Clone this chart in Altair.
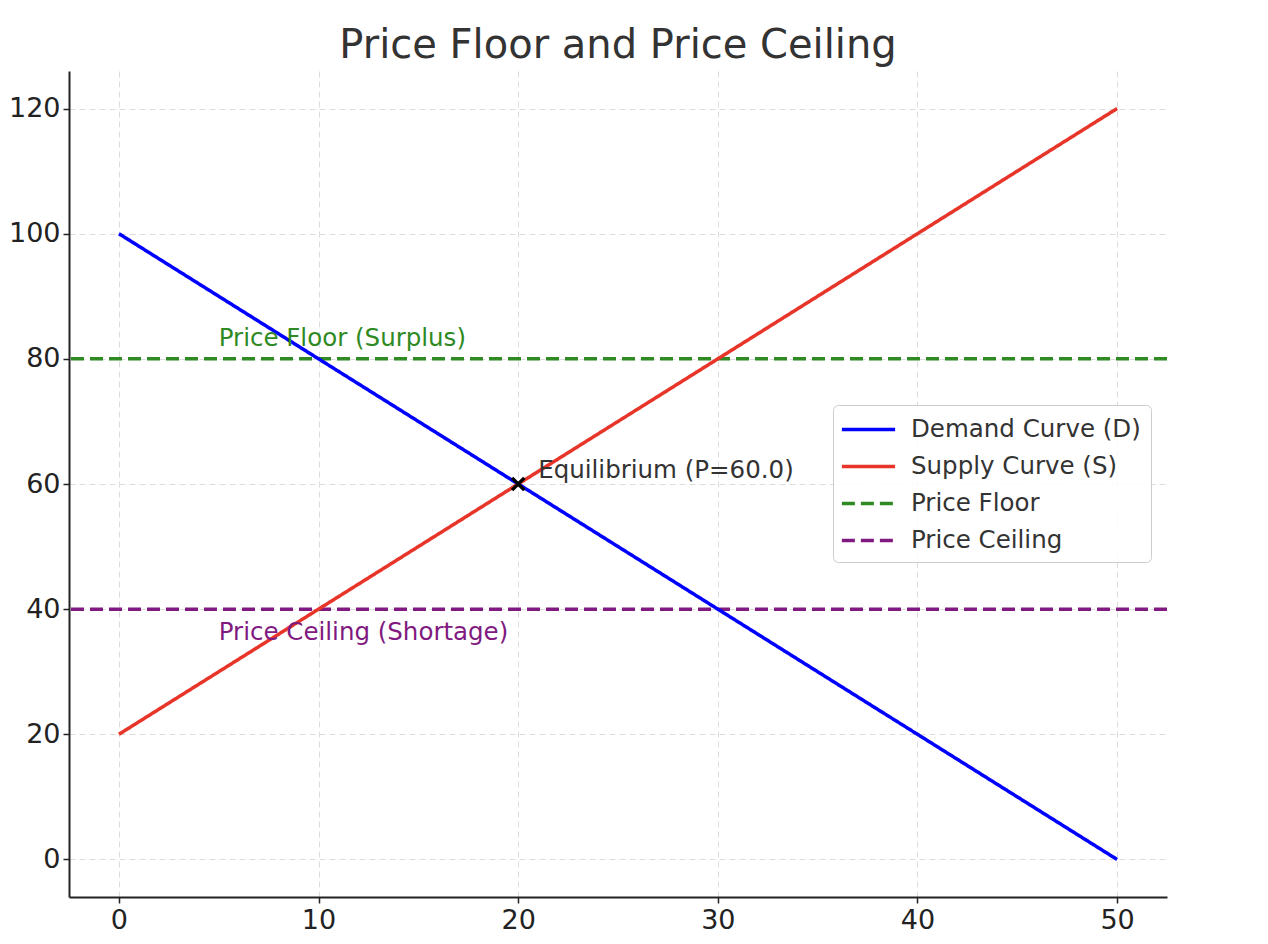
import altair as alt
import pandas as pd

# ---- data ----
series_names = ["Demand Curve (D)", "Supply Curve (S)", "Price Floor", "Price Ceiling"]
series_colors = ["#0000ff", "#e8352a", "#2f8a23", "#801a80"]
series_dash = [[1, 0], [1, 0], [13, 6], [13, 6]]

quantity = [0, 50]
demand_price = [100, 0]
supply_price = [20, 120]

price_floor = 80
price_ceiling = 40

eq_q = [20]
eq_p = [60]

note_text = ["Price Floor (Surplus)", "Price Ceiling (Shortage)", "Equilibrium (P=60.0)"]
note_x = [5, 5, 21]
note_y = [82, 35, 61]
note_color = ["#2f8a23", "#801a80", "#333333"]

x_ticks = [0, 10, 20, 30, 40, 50]
y_ticks = [0, 20, 40, 60, 80, 100, 120]

FONT = "DejaVu Sans"

lines_df = pd.DataFrame(
    {
        "series": [series_names[0]] * 2 + [series_names[1]] * 2,
        "q": quantity + quantity,
        "p": demand_price + supply_price,
    }
)
rules_df = pd.DataFrame({"series": [series_names[2], series_names[3]], "p": [price_floor, price_ceiling]})
eq_df = pd.DataFrame({"q": eq_q, "p": eq_p})
notes_df = pd.DataFrame({"text": note_text, "q": note_x, "p": note_y, "color": note_color})

xscale = alt.Scale(domain=[-2.5, 52.5], nice=False, zero=False)
yscale = alt.Scale(domain=[-6, 126], nice=False, zero=False)

PLOT_LEFT = 61  # padding left (page margin 8 -> plot at x=69)
PLOT_W = 1098

color_enc = alt.Color(
    "series:N",
    scale=alt.Scale(domain=series_names, range=series_colors),
    sort=series_names,
    legend=alt.Legend(
        title=None,
        orient="none",
        legendX=833 - (PLOT_LEFT + 8),
        legendY=334,
        padding=10,
        cornerRadius=5,
        strokeColor="#cccccc",
        fillColor="rgba(255,255,255,0.85)",
        labelFont=FONT,
        labelFontSize=24.5,
        labelColor="#333333",
        labelOffset=28,
        symbolType="M-2.13,0H2.13",
        symbolSize=625,
        symbolOffset=11,
        symbolStrokeWidth=3.5,
        rowPadding=11,
        labelLimit=400,
    ),
)
dash_enc = alt.StrokeDash(
    "series:N",
    scale=alt.Scale(domain=series_names, range=series_dash),
    sort=series_names,
    legend=None,
)

x_axis = alt.Axis(values=x_ticks, title=None, labelPadding=4)
y_axis = alt.Axis(values=y_ticks, title=None, labelPadding=3)

lines = (
    alt.Chart(lines_df)
    .mark_line(strokeWidth=3.5)
    .encode(
        x=alt.X("q:Q", scale=xscale, axis=x_axis),
        y=alt.Y("p:Q", scale=yscale, axis=y_axis),
        color=color_enc,
        strokeDash=dash_enc,
    )
)

rules = (
    alt.Chart(rules_df)
    .mark_rule(strokeWidth=3.5)
    .encode(
        y=alt.Y("p:Q", scale=yscale),
        color=color_enc,
        strokeDash=dash_enc,
    )
)

eq_point = (
    alt.Chart(eq_df)
    .mark_point(
        shape="M-1,-1L1,1M-1,1L1,-1",
        size=150,
        filled=False,
        stroke="black",
        strokeWidth=3.5,
        opacity=1,
    )
    .encode(x=alt.X("q:Q", scale=xscale), y=alt.Y("p:Q", scale=yscale))
)

notes = (
    alt.Chart(notes_df)
    .mark_text(align="left", baseline="alphabetic", font=FONT, fontSize=24.5)
    .encode(
        x=alt.X("q:Q", scale=xscale),
        y=alt.Y("p:Q", scale=yscale),
        text="text:N",
        color=alt.Color("color:N", scale=None),
    )
)

chart = (
    alt.layer(rules, lines, eq_point, notes)
    .properties(
        width=PLOT_W,
        height=826,
        autosize=alt.AutoSizeParams(type="none"),
        padding={"left": PLOT_LEFT, "top": 63, "right": 1252 - PLOT_LEFT - PLOT_W, "bottom": 39},
        title=alt.TitleParams(
            "Price Floor and Price Ceiling",
            font=FONT,
            fontSize=40,
            fontWeight="normal",
            color="#333333",
            anchor="middle",
            offset=5,
        ),
    )
    .configure(background="white")
    .configure_view(stroke=None)
    .configure_axis(
        labelFont=FONT,
        labelFontSize=27,
        labelColor="#222222",
        domainColor="#222222",
        domainWidth=2,
        tickColor="#222222",
        tickWidth=1.5,
        tickSize=6,
        grid=True,
        gridColor="#dcdcdc",
        gridDash=[6, 4],
        gridWidth=1,
    )
)

chart.save("out.html", embed_options={"renderer": "svg", "actions": False})
